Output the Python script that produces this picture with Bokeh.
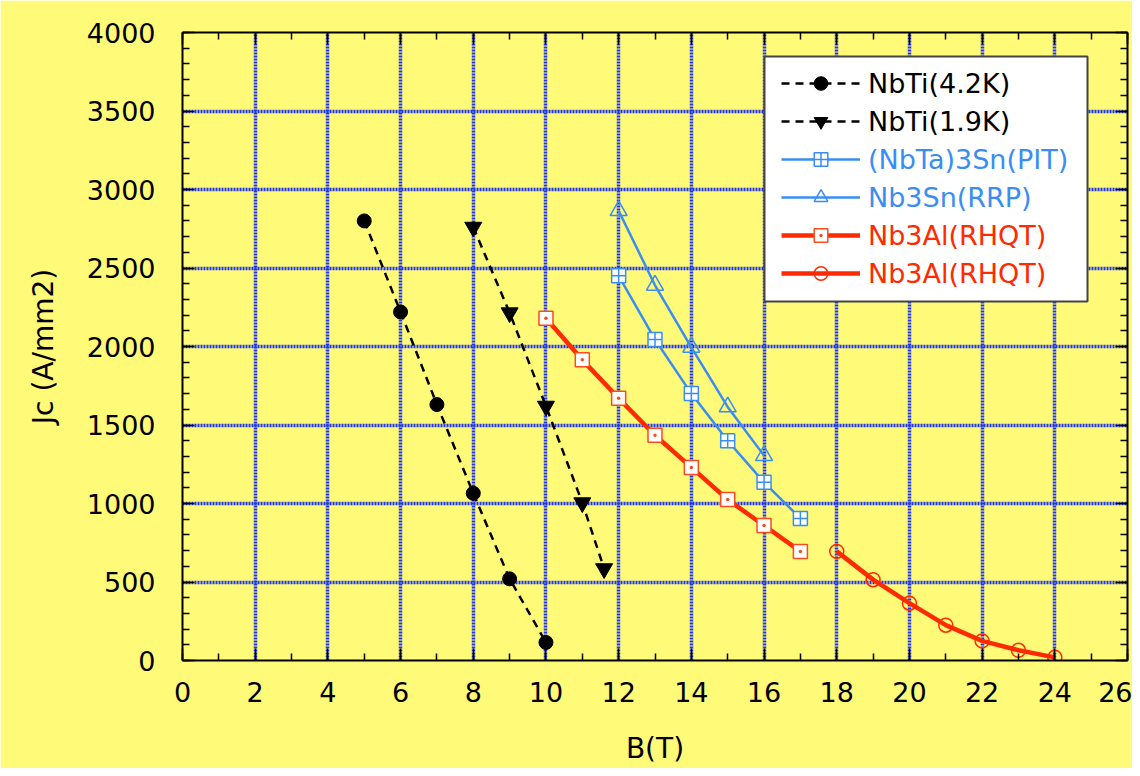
from bokeh.plotting import figure
from bokeh.models import (Range1d, LinearAxis, FixedTicker, Legend, LegendItem,
                          BoxAnnotation, CustomJSTickFormatter)
from bokeh.embed import file_html
from bokeh.resources import INLINE

# ---------------- data ----------------
x_ticks = list(range(0, 27, 2))
x_minor = list(range(0, 27, 1))
y_ticks = list(range(0, 4001, 500))
y_minor = list(range(0, 4001, 100))

nbti42_B = [5, 6, 7, 8, 9, 10]
nbti42_Jc = [2800, 2220, 1630, 1065, 520, 115]

nbti19_B = [8, 9, 10, 11, 11.6]
nbti19_Jc = [2760, 2215, 1620, 1005, 585]

pit_B = [12, 13, 14, 15, 16, 17]
pit_Jc = [2450, 2045, 1700, 1400, 1135, 905]

rrp_B = [12, 13, 14, 15, 16]
rrp_Jc = [2865, 2390, 1995, 1615, 1305]

rhqt1_B = [10, 11, 12, 13, 14, 15, 16, 17]
rhqt1_Jc = [2180, 1915, 1670, 1435, 1230, 1025, 860, 695]

rhqt2_B = [18, 19, 20, 21, 22, 23, 24]
rhqt2_Jc = [695, 515, 365, 225, 125, 65, 20]

labels = ["NbTi(4.2K)", "NbTi(1.9K)", "(NbTa)3Sn(PIT)", "Nb3Sn(RRP)",
          "Nb3Al(RHQT)", "Nb3Al(RHQT)"]

# ---------------- style ----------------
YELLOW = "#fffa78"
BLUE = "#3a8ef2"
RED = "#ff2a00"
GRID = "#1f35f5"
FONT = "DejaVu Sans"

p = figure(frame_width=945, frame_height=628,
           min_border_left=182, min_border_right=5,
           min_border_top=32, min_border_bottom=108,
           x_range=Range1d(0, 26), y_range=Range1d(0, 4000),
           output_backend="svg", toolbar_location=None,
           background_fill_color=YELLOW, border_fill_color=YELLOW,
           outline_line_color=None)

xt = FixedTicker(ticks=x_ticks, minor_ticks=x_minor)
yt = FixedTicker(ticks=y_ticks, minor_ticks=y_minor)

p.xaxis.ticker = xt
p.yaxis.ticker = yt

for ax in (p.xaxis[0], p.yaxis[0]):
    ax.axis_line_color = "black"
    ax.axis_line_width = 2
    ax.major_tick_in = 12
    ax.major_tick_out = 0
    ax.minor_tick_in = 7
    ax.minor_tick_out = 0
    ax.major_tick_line_color = "black"
    ax.minor_tick_line_color = "black"
    ax.major_tick_line_width = 1.5
    ax.minor_tick_line_width = 1.5
    ax.major_label_text_font = FONT
    ax.major_label_text_font_size = "27px"
    ax.major_label_text_color = "black"
    ax.axis_label_text_font = FONT
    ax.axis_label_text_font_size = "28px"
    ax.axis_label_text_font_style = "normal"
    ax.axis_label_text_color = "black"

p.xaxis.axis_label = "B(T)"
p.yaxis.axis_label = "Jc (A/mm2)"
p.xaxis.major_label_standoff = 21
p.xaxis.axis_label_standoff = 27
p.yaxis.major_label_standoff = 27
p.yaxis.axis_label_standoff = 24

# mirror axes (top / right) with inward ticks, no labels
for loc, tk in (("above", xt), ("right", yt)):
    ax = LinearAxis(ticker=tk, formatter=CustomJSTickFormatter(code="return ''"))
    ax.axis_line_color = "black"
    ax.axis_line_width = 2
    ax.major_tick_in = 12
    ax.major_tick_out = 0
    ax.minor_tick_in = 7
    ax.minor_tick_out = 0
    ax.major_tick_line_width = 1.5
    ax.minor_tick_line_width = 1.5
    ax.major_label_standoff = 0
    ax.major_label_text_font_size = "1px"
    p.add_layout(ax, loc)

for g in (p.xgrid[0], p.ygrid[0]):
    g.grid_line_color = GRID
    g.grid_line_width = 3.5
    g.grid_line_dash = "2 1"
    g.grid_line_alpha = 1.0

# ---------------- series ----------------
l1 = p.line(nbti42_B, nbti42_Jc, line_color="black", line_width=2.5, line_dash="8 6")
m1 = p.scatter(nbti42_B, nbti42_Jc, marker="circle", size=14,
               fill_color="black", line_color="black")

l2 = p.line(nbti19_B, nbti19_Jc, line_color="black", line_width=2.5, line_dash="8 6")
m2 = p.scatter(nbti19_B, nbti19_Jc, marker="inverted_triangle", size=17,
               fill_color="black", line_color="black")

l3 = p.line(pit_B, pit_Jc, line_color=BLUE, line_width=2.5)
m3 = p.scatter(pit_B, pit_Jc, marker="square_cross", size=14,
               fill_color="white", line_color=BLUE, line_width=1.5)

l4 = p.line(rrp_B, rrp_Jc, line_color=BLUE, line_width=2.5)
m4 = p.scatter(rrp_B, rrp_Jc, marker="triangle", size=17,
               fill_color=None, line_color=BLUE, line_width=1.5)

l5 = p.line(rhqt1_B, rhqt1_Jc, line_color=RED, line_width=4.5)
m5 = p.scatter(rhqt1_B, rhqt1_Jc, marker="square_dot", size=14,
               fill_color="white", line_color="#ff4a20", line_width=1.5)

l6 = p.line(rhqt2_B, rhqt2_Jc, line_color=RED, line_width=4.5)
m6 = p.scatter(rhqt2_B, rhqt2_Jc, marker="circle", size=14,
               fill_color=None, line_color=RED, line_width=1.5)

# ---------------- legend ----------------
box = BoxAnnotation(left=582, right=905, top=604, bottom=359,
                    left_units="screen", right_units="screen",
                    top_units="screen", bottom_units="screen",
                    fill_color="white", fill_alpha=1.0,
                    line_color="#444444", line_width=2, line_alpha=1.0)
p.add_layout(box)

renderers = [(l1, m1), (l2, m2), (l3, m3), (l4, m4), (l5, m5), (l6, m6)]
groups = [((0, 1), "black", 522), ((2, 3), BLUE, 446), ((4, 5), RED, 370)]
for idx, color, ybot in groups:
    items = [LegendItem(label=labels[i], renderers=list(renderers[i])) for i in idx]
    leg = Legend(items=items, location=(599, ybot),
                 background_fill_alpha=0, border_line_alpha=0,
                 padding=0, margin=0, spacing=4,
                 glyph_width=79, glyph_height=34, label_height=34,
                 label_standoff=8,
                 label_text_font=FONT, label_text_font_size="27px",
                 label_text_color=color)
    p.add_layout(leg)

open("out.html", "w").write(file_html(p, INLINE))
